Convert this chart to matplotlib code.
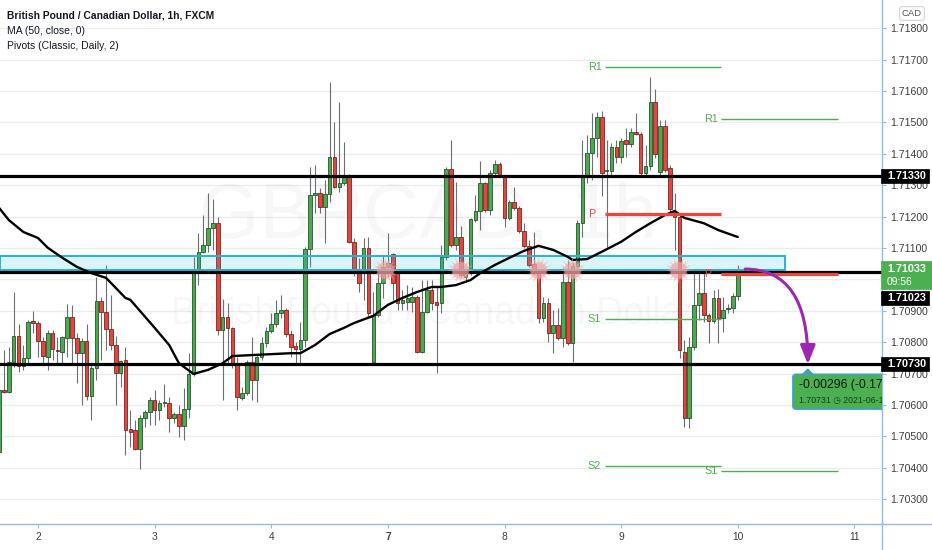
import matplotlib
matplotlib.use('Agg')
import matplotlib.pyplot as plt
from matplotlib.patches import Rectangle, FancyArrowPatch, FancyBboxPatch, Polygon
from matplotlib.transforms import IdentityTransform
from matplotlib.lines import Line2D
import numpy as np

# ---------------- data ----------------
opens = [
    1.70451, 1.70648, 1.70642, 1.70737, 1.70820, 1.70724, 1.70750, 1.70868, 1.70861, 1.70804,
    1.70753, 1.70829, 1.70775, 1.70769, 1.70814, 1.70881, 1.70814, 1.70765, 1.70804, 1.70629,
    1.70718, 1.70932, 1.70897, 1.70842, 1.70791, 1.70702, 1.70743, 1.70523, 1.70520, 1.70460,
    1.70559, 1.70578, 1.70616, 1.70584, 1.70606, 1.70606, 1.70559, 1.70571, 1.70533, 1.70587,
    1.70699, 1.71033, 1.71088, 1.71110, 1.71164, 1.71179, 1.70839, 1.70881, 1.70846, 1.70733,
    1.70623, 1.70638, 1.70737, 1.70680, 1.70753, 1.70797, 1.70836, 1.70858, 1.70893, 1.70903,
    1.70826, 1.70788, 1.70778, 1.70807, 1.71097, 1.71269, 1.71275, 1.71231, 1.71272, 1.71390,
    1.71295, 1.71307, 1.71333, 1.71120, 1.71024, 1.71024, 1.71101, 1.70737, 1.70887, 1.70988,
    1.71040, 1.71081, 1.71020, 1.70925, 1.70929, 1.70929, 1.70944, 1.70769, 1.70897, 1.70966,
    1.70929, 1.70925, 1.71072, 1.71351, 1.71110, 1.71135, 1.71008, 1.71020, 1.71189, 1.71218,
    1.71307, 1.71221, 1.71339, 1.71367, 1.71330, 1.71196, 1.71247, 1.71228, 1.71154, 1.71107,
    1.71049, 1.71020, 1.70878, 1.70925, 1.70829, 1.70855, 1.70814, 1.70991, 1.70797, 1.71043,
    1.71179, 1.71333, 1.71403, 1.71450, 1.71518, 1.71345, 1.71345, 1.71422, 1.71390, 1.71444,
    1.71431, 1.71470, 1.71463, 1.71339, 1.71361, 1.71566, 1.71342, 1.71489, 1.71355, 1.71218,
    1.71199, 1.70769, 1.70559, 1.70785, 1.70919, 1.70957, 1.70887, 1.70868, 1.70941, 1.70878,
    1.70906, 1.70910, 1.70947,
]
highs = [
    1.70655, 1.70775, 1.70785, 1.70960, 1.70858, 1.70791, 1.70871, 1.70900, 1.70868, 1.70817,
    1.70839, 1.70839, 1.70817, 1.70820, 1.70922, 1.70919, 1.70829, 1.70814, 1.70858, 1.70733,
    1.71008, 1.70944, 1.71046, 1.70950, 1.70820, 1.70743, 1.70785, 1.70584, 1.70552, 1.70568,
    1.70584, 1.70626, 1.70648, 1.70616, 1.70667, 1.70626, 1.70578, 1.70600, 1.70655, 1.70765,
    1.71072, 1.71147, 1.71205, 1.71275, 1.71256, 1.71199, 1.70937, 1.70925, 1.70849, 1.70753,
    1.70658, 1.70743, 1.70817, 1.70759, 1.70817, 1.70849, 1.70893, 1.70935, 1.70950, 1.70910,
    1.70839, 1.70801, 1.70865, 1.71104, 1.71358, 1.71364, 1.71292, 1.71317, 1.71629, 1.71502,
    1.71566, 1.71438, 1.71336, 1.71132, 1.71069, 1.71132, 1.71135, 1.70960, 1.71020, 1.71078,
    1.71147, 1.71085, 1.71024, 1.70966, 1.70982, 1.70976, 1.70950, 1.70998, 1.70998, 1.70998,
    1.70976, 1.71110, 1.71358, 1.71444, 1.71311, 1.71170, 1.71030, 1.71196, 1.71269, 1.71377,
    1.71311, 1.71349, 1.71380, 1.71374, 1.71333, 1.71253, 1.71295, 1.71234, 1.71179, 1.71126,
    1.71151, 1.71024, 1.70944, 1.70941, 1.70903, 1.70910, 1.71036, 1.71062, 1.71052, 1.71189,
    1.71444, 1.71460, 1.71530, 1.71534, 1.71537, 1.71444, 1.71435, 1.71444, 1.71450, 1.71482,
    1.71482, 1.71530, 1.71470, 1.71428, 1.71645, 1.71607, 1.71508, 1.71508, 1.71364, 1.71275,
    1.71211, 1.70807, 1.70817, 1.71024, 1.71024, 1.71020, 1.70893, 1.70966, 1.70970, 1.70944,
    1.70922, 1.70957, 1.71045,
]
lows = [
    1.70441, 1.70638, 1.70638, 1.70721, 1.70706, 1.70712, 1.70733, 1.70829, 1.70753, 1.70733,
    1.70712, 1.70743, 1.70733, 1.70733, 1.70753, 1.70733, 1.70670, 1.70600, 1.70616, 1.70552,
    1.70680, 1.70743, 1.70775, 1.70775, 1.70600, 1.70658, 1.70441, 1.70467, 1.70457, 1.70396,
    1.70530, 1.70536, 1.70536, 1.70552, 1.70594, 1.70514, 1.70542, 1.70498, 1.70489, 1.70559,
    1.70693, 1.70982, 1.71085, 1.71088, 1.71094, 1.70823, 1.70616, 1.70733, 1.70718, 1.70584,
    1.70616, 1.70632, 1.70616, 1.70610, 1.70743, 1.70785, 1.70829, 1.70849, 1.70878, 1.70817,
    1.70753, 1.70733, 1.70733, 1.70785, 1.71040, 1.71211, 1.71211, 1.71116, 1.71247, 1.71292,
    1.71279, 1.71301, 1.71116, 1.71011, 1.70960, 1.70935, 1.70878, 1.70737, 1.70881, 1.70941,
    1.71008, 1.70935, 1.70903, 1.70903, 1.70903, 1.70897, 1.70765, 1.70765, 1.70893, 1.70903,
    1.70702, 1.70893, 1.71062, 1.71104, 1.71094, 1.71008, 1.70992, 1.71014, 1.71183, 1.71157,
    1.71215, 1.71205, 1.71333, 1.71327, 1.71167, 1.71189, 1.71221, 1.71147, 1.71101, 1.71040,
    1.71014, 1.70861, 1.70865, 1.70801, 1.70765, 1.70807, 1.70785, 1.70791, 1.70737, 1.71020,
    1.71135, 1.71307, 1.71317, 1.71390, 1.71266, 1.71104, 1.71333, 1.71371, 1.71371, 1.71390,
    1.71422, 1.71460, 1.71333, 1.71333, 1.71349, 1.71387, 1.71333, 1.71342, 1.71215, 1.71094,
    1.70750, 1.70530, 1.70527, 1.70775, 1.70871, 1.70865, 1.70797, 1.70861, 1.70797, 1.70833,
    1.70893, 1.70893, 1.70935,
]
closes = [
    1.70648, 1.70642, 1.70737, 1.70820, 1.70724, 1.70750, 1.70865, 1.70861, 1.70804, 1.70756,
    1.70829, 1.70778, 1.70772, 1.70817, 1.70881, 1.70814, 1.70765, 1.70804, 1.70629, 1.70718,
    1.70932, 1.70897, 1.70842, 1.70791, 1.70702, 1.70740, 1.70520, 1.70514, 1.70460, 1.70559,
    1.70578, 1.70616, 1.70584, 1.70606, 1.70610, 1.70559, 1.70571, 1.70533, 1.70587, 1.70699,
    1.71033, 1.71088, 1.71110, 1.71164, 1.71179, 1.70839, 1.70881, 1.70846, 1.70733, 1.70626,
    1.70638, 1.70737, 1.70680, 1.70753, 1.70797, 1.70836, 1.70858, 1.70893, 1.70903, 1.70826,
    1.70785, 1.70778, 1.70807, 1.71097, 1.71269, 1.71275, 1.71231, 1.71272, 1.71390, 1.71295,
    1.71307, 1.71333, 1.71120, 1.71024, 1.70988, 1.71101, 1.70893, 1.70887, 1.70988, 1.71040,
    1.71052, 1.70988, 1.70925, 1.70935, 1.70941, 1.70944, 1.70769, 1.70897, 1.70966, 1.70925,
    1.70919, 1.71072, 1.71351, 1.71110, 1.71135, 1.71014, 1.71024, 1.71192, 1.71218, 1.71307,
    1.71221, 1.71339, 1.71367, 1.71330, 1.71196, 1.71247, 1.71228, 1.71154, 1.71107, 1.71046,
    1.71020, 1.70878, 1.70925, 1.70829, 1.70855, 1.70814, 1.70991, 1.70797, 1.71043, 1.71179,
    1.71333, 1.71403, 1.71450, 1.71518, 1.71339, 1.71349, 1.71422, 1.71390, 1.71441, 1.71431,
    1.71470, 1.71463, 1.71339, 1.71361, 1.71566, 1.71399, 1.71489, 1.71349, 1.71224, 1.71199,
    1.70775, 1.70559, 1.70785, 1.70919, 1.70957, 1.70887, 1.70868, 1.70941, 1.70878, 1.70903,
    1.70910, 1.70947, 1.71033,
]

# MA(50) line sampled along the chart (candle index, value)
ma_idx = [0, 2, 5, 8, 10, 13, 16, 19, 22, 24, 26, 27, 32, 35, 37, 40, 43, 46, 48, 52,
          56, 60, 62, 65, 68, 71, 73, 77, 80, 83, 86, 89, 91, 94, 97, 99, 102, 105, 108, 111,
          114, 117, 118, 121, 124, 128, 131, 134, 137, 139, 141, 145, 148, 152]
ma_val = [1.71228, 1.71189, 1.71151, 1.71132, 1.71101, 1.71069, 1.71040, 1.71020, 1.71005, 1.70973,
          1.70941, 1.70935, 1.70846, 1.70791, 1.70733, 1.70699, 1.70712, 1.70733, 1.70756, 1.70759,
          1.70762, 1.70765, 1.70765, 1.70791, 1.70826, 1.70846, 1.70861, 1.70884, 1.70919, 1.70941,
          1.70960, 1.70976, 1.70976, 1.70982, 1.70998, 1.71020, 1.71046, 1.71069, 1.71091, 1.71107,
          1.71094, 1.71072, 1.71062, 1.71065, 1.71088, 1.71120, 1.71151, 1.71179, 1.71205, 1.71218,
          1.71196, 1.71179, 1.71157, 1.71135]

day_labels = ['2', '3', '4', '7', '8', '9', '10', '11']
day_pos = [8, 32, 56, 80, 104, 128, 152, 176]

price_ticks = [1.703, 1.704, 1.705, 1.706, 1.707, 1.708, 1.709, 1.711,
               1.712, 1.713, 1.714, 1.715, 1.716, 1.717, 1.718]
grid_prices = [1.703, 1.704, 1.705, 1.706, 1.707, 1.708, 1.709, 1.710, 1.711,
               1.712, 1.713, 1.714, 1.715, 1.716, 1.717, 1.718]

levels = [1.71330, 1.71023, 1.70730]
zone_low, zone_high = 1.71030, 1.71075
zone_end = 161.7

pivot_bounds = [(124.6, 148.6), (148.6, 172.6)]
pivot_day9 = {'R1': 1.71677, 'P': 1.71208, 'S1': 1.70874, 'S2': 1.70406}
pivot_day10 = {'R1': 1.71511, 'P': 1.71017, 'S1': 1.70390}

touch_idx = [79.4, 94.8, 110.9, 117.9, 139.7]
touch_price = 1.71030

target_price = 1.70730
target_offset = 14.4
measure_text = '-0.00296 (-0.17%)'
measure_sub = '1.70731 \u25F7 2021-06-10'
countdown = '09:56'

# ---------------- figure ----------------
W, H = 932, 550
fig = plt.figure(figsize=(W / 100, H / 100), dpi=100)
fig.patch.set_facecolor('white')
ax = fig.add_axes([0, 26 / H, 882 / W, 524 / H])
ax.set_xlim(0.185, 181.66)
ax.set_ylim(1.70221, 1.71890)
ax.set_facecolor('white')

FONT = ['Liberation Sans', 'DejaVu Sans']

for p in grid_prices:
    ax.axhline(p, color='#ececf0', lw=0.9, zorder=0)

# watermark
ax.text(0.485, 0.585, 'GBPCAD, 1h', transform=ax.transAxes, ha='center', va='center',
        fontsize=56, color='#000000', alpha=0.03, family=FONT, zorder=0.5)
ax.text(0.49, 0.40, 'British Pound / Canadian Dollar', transform=ax.transAxes, ha='center',
        va='center', fontsize=27, color='#000000', alpha=0.03, family=FONT, zorder=0.5)

# candles
o = np.array(opens); c = np.array(closes); hi = np.array(highs); lo = np.array(lows)
idx = np.arange(len(c))
up = c >= o
blo = np.minimum(o, c)
bh = np.maximum(np.abs(c - o), 0.000022)
ax.vlines(idx, lo, hi, color='#6b6e75', lw=0.8, zorder=3)
ax.bar(idx[up], bh[up], bottom=blo[up], width=0.74, color='#4ea852', edgecolor='#24562a',
       lw=0.6, zorder=4)
ax.bar(idx[~up], bh[~up], bottom=blo[~up], width=0.74, color='#e0473f', edgecolor='#7e2320',
       lw=0.6, zorder=4)

# zone
ax.add_patch(Rectangle((0.185, zone_low), zone_end - 0.185, zone_high - zone_low,
                       facecolor=(0.16, 0.72, 0.86, 0.17), edgecolor='#26b4d6', lw=1.4, zorder=5))

# MA
ax.plot(ma_idx, ma_val, color='black', lw=1.7, zorder=6, solid_capstyle='round')

# black levels
for lv in levels:
    ax.axhline(lv, color='black', lw=2.3, zorder=6.5)

# pivots
for (start, end), piv in zip(pivot_bounds, [pivot_day9, pivot_day10]):
    for name, val in piv.items():
        col = '#f0433a' if name == 'P' else '#4caf50'
        lw = 2.3 if name == 'P' else 1.0
        ax.hlines(val, start, end, color=col, lw=lw, zorder=7)
        ax.text(start - 3.5, val, name, color=col, fontsize=7.8, ha='left', va='center',
                family=FONT, zorder=7)

# pivot touch bursts
ax.scatter(touch_idx, [touch_price] * len(touch_idx), marker=(16, 1, 0), s=380,
           color='#f6a5a5', alpha=0.5, lw=0, zorder=7.2)
ax.scatter(touch_idx, [touch_price] * len(touch_idx), marker='o', s=150,
           color='#f4a0a0', alpha=0.5, lw=0, zorder=7.2)

# purple arrow
last_i = len(c) - 1
arr = FancyArrowPatch((last_i + 1.5, c[-1]), (last_i + target_offset, target_price),
                      connectionstyle='angle3,angleA=0,angleB=90',
                      arrowstyle='-|>,head_length=0.75,head_width=0.3', mutation_scale=15,
                      color='#9c27b0', lw=2.2, shrinkA=0, shrinkB=0, zorder=9)
ax.add_patch(arr)

# measure box (pixel based, anchored at arrow tip)
tx, ty = ax.transData.transform((last_i + target_offset, target_price))
bx, btop = tx - 15, ty - 10
box = FancyBboxPatch((bx, btop - 35), 150, 35, boxstyle='round,pad=0,rounding_size=3',
                     transform=IdentityTransform(), fc='#4caf50', ec='#3b9de0', lw=1.0, zorder=9)
ax.add_patch(box)
ax.add_patch(Polygon([(tx - 5, btop), (tx + 5, btop), (tx, btop + 5)], closed=True,
                     transform=IdentityTransform(), fc='#4caf50', ec='#3b9de0', lw=1.0, zorder=9))
ax.text(bx + 6, btop - 11, measure_text, transform=IdentityTransform(), fontsize=8.8,
        color='#131722', ha='left', va='center', family=FONT, zorder=10, clip_on=True)
ax.text(bx + 6, btop - 26, measure_sub, transform=IdentityTransform(), fontsize=6.3,
        color='#1c3a1f', ha='left', va='center', family=FONT, zorder=10, clip_on=True)

# axes styling
for s in ['top', 'left']:
    ax.spines[s].set_visible(False)
for s in ['right', 'bottom']:
    ax.spines[s].set_color('#8fbde9')
    ax.spines[s].set_linewidth(1.0)
ax.yaxis.tick_right()
ax.set_yticks(price_ticks)
ax.set_yticklabels(['%.5f' % p for p in price_ticks])
ax.tick_params(axis='y', which='both', right=True, left=False, length=3, width=0.8,
               color='#8fbde9', labelsize=7.6, labelcolor='#3d3d3d', pad=3)
ax.set_xticks(day_pos)
ax.set_xticklabels(day_labels)
ax.tick_params(axis='x', length=3, width=0.8, color='#8fbde9', labelsize=7.4,
               labelcolor='#3d3d3d', pad=3)
for lab in ax.get_yticklabels() + ax.get_xticklabels():
    lab.set_family(FONT)
ax.get_xticklabels()[3].set_fontweight('bold')

fig.add_artist(Line2D([882 / W, 882 / W], [0, 26 / H], color='#8fbde9', lw=1.0))
fig.add_artist(Line2D([882 / W, 1], [26 / H, 26 / H], color='#8fbde9', lw=1.0))

# right-hand price labels
def label_box(yc, text, fc, height=14, width=48):
    fig.add_artist(Rectangle((881, yc - height / 2), width, height, transform=IdentityTransform(),
                             fc=fc, ec=fc, lw=0.5, zorder=5))
    fig.text(887, yc, text, transform=IdentityTransform(), color='white', fontsize=7.8,
             weight='bold', ha='left', va='center', family=FONT, zorder=6)

for lv in [levels[0], levels[2]]:
    label_box(ax.transData.transform((0, lv))[1], '%.5f' % lv, 'black')

yc_last = ax.transData.transform((0, c[-1]))[1]
fig.add_artist(Rectangle((881, yc_last - 20), 51, 28, transform=IdentityTransform(),
                         fc='#4caf50', ec='#4caf50', lw=0.5, zorder=5))
fig.text(887, yc_last + 0.5, '%.5f' % c[-1], transform=IdentityTransform(), color='white',
         fontsize=7.8, weight='bold', ha='left', va='center', family=FONT, zorder=6)
fig.text(887, yc_last - 12.5, countdown, transform=IdentityTransform(), color='white',
         fontsize=7.4, ha='left', va='center', family=FONT, zorder=6)
label_box(yc_last - 28.5, '%.5f' % levels[1], 'black')

# CAD badge
fig.text(912 / W, 1 - 13.5 / H, 'CAD', fontsize=6.8, color='#555555', ha='center', va='center',
         family=FONT,
         bbox=dict(boxstyle='round,pad=0.25,rounding_size=0.3', fc='white', ec='#d6d6d6', lw=0.8))

# legend texts
fig.text(7 / W, 1 - 15 / H, 'British Pound / Canadian Dollar, 1h, FXCM', fontsize=7.4,
         weight='bold', color='#131722', ha='left', va='center', family=FONT)
fig.text(7 / W, 1 - 31 / H, 'MA (50, close, 0)', fontsize=7.5, color='#131722', ha='left',
         va='center', family=FONT)
fig.text(7 / W, 1 - 46 / H, 'Pivots (Classic, Daily, 2)', fontsize=7.5, color='#131722',
         ha='left', va='center', family=FONT)

fig.savefig('out.png', dpi=100)
